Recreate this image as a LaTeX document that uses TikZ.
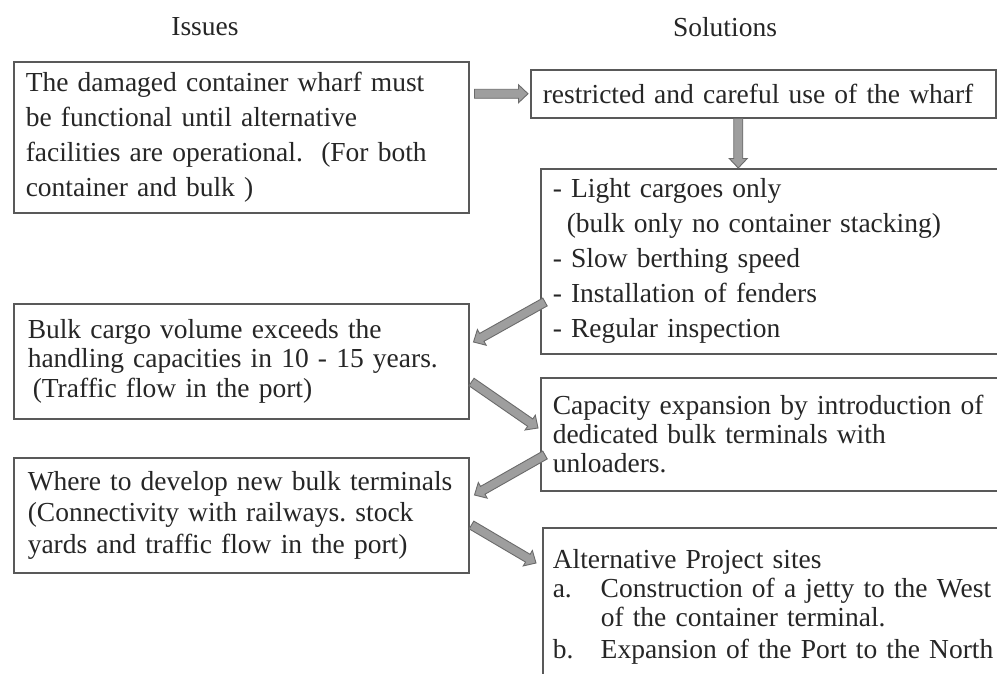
\documentclass[tikz,border=0pt]{standalone}
\usepackage{fontspec}
\setmainfont{Liberation Serif}
\usetikzlibrary{calc}
\frenchspacing

\tikzset{
  box/.style={draw=black!65, line width=1.5pt, fill=white, align=left,
    inner xsep=12pt, inner ysep=0pt, anchor=north west, text=black!85,
    execute at begin node={\hyphenpenalty=10000\relax}},
  heading/.style={text=black!85, font=\fontsize{27.5}{32}\selectfont},
  % grey block arrow with a dark outline, drawn between two points
  blockarr/.style={draw=black!58, fill=black!38, line width=0.9pt, line join=miter,
    to path={let \p1=(\tikztostart), \p2=(\tikztotarget),
      \p3=($(\p2)!9.5pt!(\p1)$) in
      ($(\p1)!4.5pt!90:(\p2)$) -- ($(\p3)!4.5pt!90:(\p2)$) -- ($(\p3)!9pt!90:(\p2)$)
      -- (\p2) -- ($(\p3)!9pt!-90:(\p2)$) -- ($(\p3)!4.5pt!-90:(\p2)$)
      -- ($(\p1)!4.5pt!-90:(\p2)$) -- cycle}}
}

\begin{document}
\begin{tikzpicture}[x=1pt, y=-1pt]
\useasboundingbox (0,0) rectangle (997,673);
\clip (0,0) rectangle (997,673);
\fill[white] (0,0) rectangle (997,673);

% column headings
\node[heading] (issues) at (205,27) {Issues};
\node[heading] (solutions) at (725,27) {Solutions};

% issues (left column)
\node[box, text width=431pt, minimum height=151pt,
  font=\fontsize{27.5}{35}\selectfont] (b1) at (13,61)
  {The damaged container wharf must\\
   be functional until alternative\\
   facilities are operational.~ (For both\\
   container and bulk )};

\node[box, text width=427pt, minimum height=115pt, inner xsep=14pt,
  font=\fontsize{27.5}{29.5}\selectfont] (b4) at (13,303)
  {Bulk cargo volume exceeds the\\
   handling capacities in 10 - 15 years.\\
   \hspace*{5pt}(Traffic flow in the port)};

\node[box, text width=427pt, minimum height=115pt, inner xsep=14pt,
  font=\fontsize{27.5}{31.5}\selectfont] (b6) at (13,457)
  {Where to develop new bulk terminals\\
   (Connectivity with railways. stock\\
   yards and traffic flow in the port)};

% solutions (right column)
\node[box, text width=441pt, minimum height=48pt,
  font=\fontsize{27.5}{32}\selectfont] (b2) at (530,69)
  {restricted and careful use of the wharf};

\node[box, text width=466pt, minimum height=185pt,
  font=\fontsize{27.5}{35}\selectfont] (b3) at (540,168)
  {- Light cargoes only\\
   \hspace*{14pt}(bulk only no container stacking)\\
   - Slow berthing speed\\
   - Installation of fenders\\
   - Regular inspection};

\node[box, text width=466pt, minimum height=113pt,
  font=\fontsize{27.5}{29}\selectfont] (b5) at (540,377)
  {Capacity expansion by introduction of\\
   dedicated bulk terminals with\\
   unloaders.};

\node[box, text width=466pt, minimum height=158pt, inner xsep=10pt,
  font=\fontsize{27.5}{29}\selectfont] (b7) at (542,527)
  {Alternative Project sites\\
   \makebox[48pt][l]{a.}Construction of a jetty to the West\\
   \hspace*{48pt}of the container terminal.\\[3pt]
   \makebox[48pt][l]{b.}Expansion of the Port to the North};

% connectors
\draw[blockarr] ([xshift=5pt]b1.east |- b2.west) to ([xshift=-2pt]b2.west);
\draw[blockarr] ([xshift=-25pt]b2.south) to ([xshift=-25pt]b2.south |- b3.north);
\draw[blockarr] ($(b3.north west)+(5,134)$) to ($(b4.north east)+(4,39)$);
\draw[blockarr] ($(b4.north east)+(2,79)$) to ($(b5.north west)+(-2,51)$);
\draw[blockarr] ($(b5.north west)+(5,78)$) to ($(b6.north east)+(5,38)$);
\draw[blockarr] ($(b6.north east)+(2,68)$) to ($(b7.north west)+(-6,36)$);
\end{tikzpicture}
\end{document}
